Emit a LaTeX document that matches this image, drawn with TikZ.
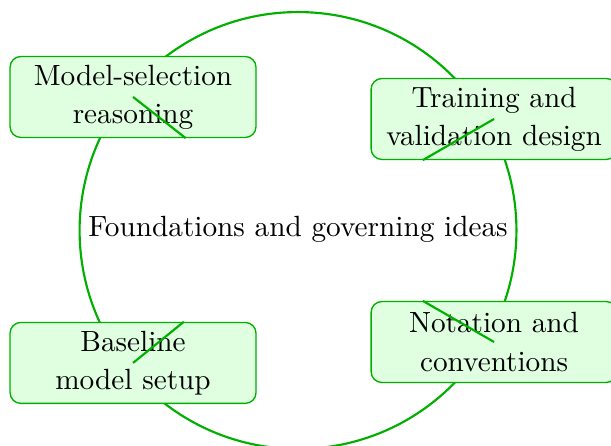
\documentclass[tikz,border=0pt]{standalone}
\usepackage{amsmath,amssymb}
\usetikzlibrary{calc}

\definecolor{ringgreen}{RGB}{0,175,0}
\definecolor{boxfill}{RGB}{224,255,224}

\begin{document}
\begin{tikzpicture}[
        font=\fontsize{10.9}{14.2}\selectfont,
        topic/.style={draw=ringgreen, line width=0.5pt, fill=boxfill, rounded corners=4pt,
            align=center, minimum width=3.22cm, minimum height=1.06cm, inner sep=2pt},
        spoke/.style={draw=ringgreen, thick}
    ]

        \useasboundingbox (-3.902,-2.841) rectangle (4.098,2.998);

        % Ring and hub
        \draw[ringgreen, thick] (0,-0.02) circle (2.86);
        \node (hub) at (0,0) {Foundations and governing ideas};

        % Topic boxes on the ring
        \node[topic] (msel) at (-2.160, 1.728) {Model-selection\\reasoning};
        \node[topic] (tval) at (2.567, 1.440) {Training and\\validation design};
        \node[topic] (nota) at (2.567, -1.480) {Notation and\\conventions};
        \node[topic] (base) at (-2.160, -1.754) {Baseline\\model setup};

        % Spokes pointing back to the hub
        \draw[spoke] (msel.center) -- (msel.-38.7);
        \draw[spoke] (tval.center) -- (tval.-150.8);
        \draw[spoke] (nota.center) -- (nota.150.0);
        \draw[spoke] (base.center) -- (base.39.1);

    \end{tikzpicture}
\end{document}
